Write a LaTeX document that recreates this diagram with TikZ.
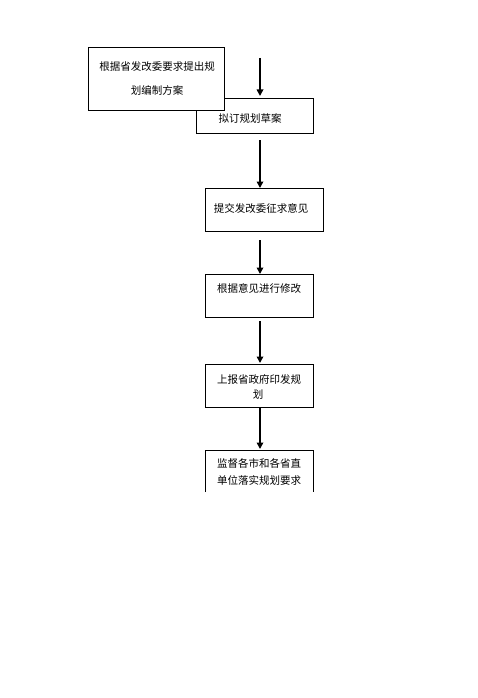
\documentclass[tikz,border=0pt]{standalone}
\usepackage{fontspec}
\newfontfamily\cjk{Noto Sans CJK SC}
\usetikzlibrary{arrows.meta}
\begin{document}
\begin{tikzpicture}[x=1pt,y=-1pt,
  boxst/.style={draw=black,line width=0.9pt,fill=white,inner sep=0pt,anchor=north west},
  txt/.style={font=\cjk\fontsize{10.5}{12}\selectfont,inner sep=0pt,text=black},
  arr/.style={line width=1.6pt,-{Triangle[length=6.5pt,width=6.5pt]}}]
\useasboundingbox (0,0) rectangle (477,698);
% box 2 (behind box 1)
\node[boxst,minimum width=117pt,minimum height=35pt] (b2) at (196,98) {};
\node[boxst,minimum width=136pt,minimum height=63pt] (b1) at (88,47) {};
\node[txt] (t1a) at (157,67) {根据省发改委要求提出规};
\node[txt] (t1b) at (157,90) {划编制方案};
\node[txt] (t2) at (250,118) {拟订规划草案};
\node[boxst,minimum width=118pt,minimum height=43pt] (b3) at (205,188) {};
\node[txt] (t3) at (261,208) {提交发改委征求意见};
\node[boxst,minimum width=108pt,minimum height=43pt] (b4) at (205,274) {};
\node[txt] (t4) at (259,288) {根据意见进行修改};
\node[boxst,minimum width=108pt,minimum height=43pt] (b5) at (205,364) {};
\node[txt] (t5a) at (259,379) {上报省政府印发规};
\node[txt] (t5b) at (258,395) {划};
% box 6 without bottom edge
\coordinate (b6a) at (205,492);
\coordinate (b6b) at (205,450);
\coordinate (b6c) at (313,450);
\coordinate (b6d) at (313,492);
\draw[line width=0.9pt] (b6a) -- (b6b) -- (b6c) -- (b6d);
\node[txt] (t6a) at (259,463) {监督各市和各省直};
\node[txt] (t6b) at (259,480) {单位落实规划要求};
% arrows
\coordinate (a1s) at (260,58); \coordinate (a1e) at (260,96);
\coordinate (a2s) at (260,140); \coordinate (a2e) at (260,188);
\coordinate (a3s) at (260,240); \coordinate (a3e) at (260,274);
\coordinate (a4s) at (260,321); \coordinate (a4e) at (260,363);
\coordinate (a5s) at (260,407); \coordinate (a5e) at (260,449);
\draw[arr] (a1s) -- (a1e);
\draw[arr] (a2s) -- (a2e);
\draw[arr] (a3s) -- (a3e);
\draw[arr] (a4s) -- (a4e);
\draw[arr] (a5s) -- (a5e);
\end{tikzpicture}
\end{document}
